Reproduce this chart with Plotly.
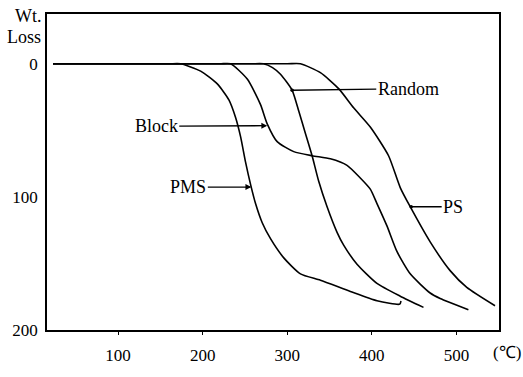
import plotly.graph_objects as go

# Temperature (°C) and weight loss readings for each polymer
pms_temp = [23, 160, 174, 197.6, 217.3, 231.0, 238.9, 244.8, 250.7, 256.6, 262.5, 270.4, 280.2, 295.9, 315.6, 339.2, 374.6, 406.1, 433.0, 434.5]
pms_loss = [0, 0, 0, 5.5, 15.1, 27.1, 40.3, 54.7, 73.9, 90.6, 105.0, 119.4, 131.4, 145.8, 157.8, 162.6, 171.0, 178.0, 180.6, 178.2]

block_temp = [23, 220, 233.0, 252.7, 268.4, 276.3, 288.1, 307.7, 329.4, 351.0, 370.7, 386.4, 398.2, 406.1, 417.9, 429.7, 445.4, 469.0, 480.8, 514.2]
block_loss = [0, 0, 0, 11.5, 30.7, 45.1, 58.5, 66.0, 69.1, 71.4, 76.3, 85.8, 94.2, 105.0, 121.8, 141.0, 157.8, 172.2, 176.3, 184.7]

random_temp = [23, 256.6, 271.9, 282.6, 292.0, 305.8, 313.6, 321.5, 329.4, 337.2, 347.1, 358.9, 366.7, 382.5, 406.1, 433.6, 461.1]
random_loss = [0, 0, 0, 2.9, 7.9, 19.9, 35.5, 52.3, 69.1, 88.3, 107.4, 126.6, 136.2, 150.6, 165.0, 174.6, 183.0]

ps_temp = [23, 300, 315.6, 339.2, 360.8, 378.5, 398.2, 419.8, 433.6, 445.4, 469.0, 492.6, 512.3, 545.7]
ps_loss = [0, 0, 0, 6.7, 18.7, 33.1, 47.5, 69.1, 93.0, 107.4, 133.8, 155.4, 168.0, 181.8]

x_ticks = [100, 200, 300, 400, 500]
y_ticks = [0, 100, 200]

# label text, arrow target (temp, loss), text centre (temp, loss), arrowhead style
labels = [
    ("Random", 305.8, 19.9, 443.1, 18.7, 6),
    ("Block", 276.3, 46.5, 145.1, 47.0, 2),
    ("PMS", 257.5, 92.6, 183.0, 92.6, 2),
    ("PS", 446.5, 107.4, 496.2, 107.4, 6),
]

FONT = "Liberation Serif, Times New Roman, serif"

fig = go.Figure()
for t, w in [(pms_temp, pms_loss), (block_temp, block_loss), (random_temp, random_loss), (ps_temp, ps_loss)]:
    fig.add_trace(go.Scatter(x=t, y=w, mode="lines",
                             line=dict(color="black", width=1.6, shape="spline", smoothing=0.6),
                             showlegend=False, hoverinfo="skip"))

for text, px, py, tx, ty, head in labels:
    fig.add_annotation(x=px, y=py, ax=tx, ay=ty, axref="x", ayref="y", xref="x", yref="y",
                       text=text, showarrow=True, arrowhead=head, arrowsize=0.7 if head == 6 else 0.9,
                       arrowwidth=1.3, arrowcolor="black", standoff=0,
                       font=dict(family=FONT, size=18, color="black"))

fig.add_annotation(xref="paper", yref="paper", x=0, y=1, xanchor="right", yanchor="middle",
                   xshift=-3, yshift=-1.5, text="Wt.", showarrow=False,
                   font=dict(family=FONT, size=18, color="black"))
fig.add_annotation(xref="paper", yref="paper", x=0, y=1, xanchor="right", yanchor="middle",
                   xshift=-4, yshift=-23, text="Loss", showarrow=False,
                   font=dict(family=FONT, size=18, color="black"))
fig.add_annotation(xref="paper", yref="paper", x=1, y=0, xanchor="left", yanchor="middle",
                   xshift=-8, yshift=-22, text="(℃)", showarrow=False,
                   font=dict(family=FONT, size=17, color="black"))

fig.update_xaxes(range=[15.9, 550.4], tickvals=x_ticks, ticktext=[str(v) for v in x_ticks],
                 showgrid=False, zeroline=False, showline=True, linecolor="black", linewidth=1.6,
                 mirror=True, ticks="outside", ticklen=3, tickwidth=1.3, tickcolor="black",
                 ticklabelstandoff=6,
                 tickfont=dict(family=FONT, size=17, color="black"))
fig.update_yaxes(range=[200, -37.4], tickvals=y_ticks, ticktext=[str(v) for v in y_ticks],
                 showgrid=False, zeroline=False, showline=True, linecolor="black", linewidth=1.6,
                 mirror=True, ticks="", ticklabelstandoff=4,
                 tickfont=dict(family=FONT, size=17, color="black"))

fig.update_layout(width=523, height=377, margin=dict(l=46, r=24, t=12, b=35),
                  plot_bgcolor="white", paper_bgcolor="white")

fig.write_html("out.html")
